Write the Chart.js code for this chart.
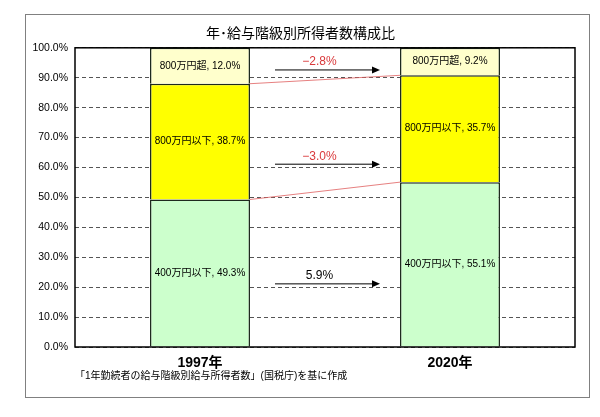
<!DOCTYPE html>
<html lang="ja">
<head>
<meta charset="UTF-8" />
<title>年・給与階級別所得者数構成比</title>
<script src="https://cdn.jsdelivr.net/npm/chart.js@4.4.1/dist/chart.umd.min.js"></script>
<style>
  html, body { margin: 0; padding: 0; background: #fff; }
  #box { position: absolute; left: 25px; top: 14px; width: 563px; height: 382px; border: 1px solid #808080; }
  #box canvas { display: block; }
</style>
</head>
<body>
<div id="box"><canvas id="myChart" width="563" height="382"></canvas></div>
<script>
// data
const years = ['1997年', '2020年'];
const seriesNames = ['400万円以下', '800万円以下', '800万円超'];
const under400 = [49.3, 55.1];
const under800 = [38.7, 35.7];
const over800 = [12.0, 9.2];
// change labels shown beside arrows (bottom, middle, top band)
const changeLabels = ['5.9%', '−3.0%', '−2.8%'];
const chartTitle = '年･給与階級別所得者数構成比';
const sourceNote = '「1年勤続者の給与階級別給与所得者数」(国税庁)を基に作成';

// where the arrows sit (y in %, x in category units)
const arrowLevels = [21.1, 61.1, 92.6];
const arrowFrom = 0.3, arrowTo = 0.72;
const changeColors = ['#000000', '#d9383a', '#d9383a'];

const FONT = '"Liberation Sans", "Noto Sans CJK JP", sans-serif';

const extras = {
  id: 'extras',
  afterDatasetsDraw(chart) {
    const ctx = chart.ctx;
    const a = chart.chartArea;
    const x = chart.scales.x, y = chart.scales.y;
    ctx.save();

    // red lines joining the segment tops
    ctx.strokeStyle = '#e06060';
    ctx.lineWidth = 0.8;
    [0, 1].forEach(i => {
      const bars = chart.getDatasetMeta(i).data;
      ctx.beginPath();
      ctx.moveTo(bars[0].x + bars[0].width / 2, bars[0].y);
      ctx.lineTo(bars[1].x - bars[1].width / 2, bars[1].y);
      ctx.stroke();
    });

    // labels inside segments
    ctx.fillStyle = '#000';
    ctx.font = '10px ' + FONT;
    ctx.textAlign = 'center';
    ctx.textBaseline = 'middle';
    chart.data.datasets.forEach((ds, i) => {
      chart.getDatasetMeta(i).data.forEach((bar, j) => {
        const c = bar.getCenterPoint();
        ctx.fillText(ds.label + ', ' + ds.data[j].toFixed(1) + '%', c.x, c.y);
      });
    });

    // arrows with change values
    arrowLevels.forEach((lv, i) => {
      const py = y.getPixelForValue(lv);
      const x0 = x.getPixelForValue(arrowFrom), x1 = x.getPixelForValue(arrowTo);
      ctx.strokeStyle = '#000';
      ctx.lineWidth = 1;
      ctx.beginPath();
      ctx.moveTo(x0, py);
      ctx.lineTo(x1 - 6, py);
      ctx.stroke();
      ctx.fillStyle = '#000';
      ctx.beginPath();
      ctx.moveTo(x1, py);
      ctx.lineTo(x1 - 8, py - 3.5);
      ctx.lineTo(x1 - 8, py + 3.5);
      ctx.closePath();
      ctx.fill();
      ctx.fillStyle = changeColors[i];
      ctx.font = '12px ' + FONT;
      ctx.fillText(changeLabels[i], (x0 + x1) / 2 - 8, py - 8);
    });

    // plot frame
    ctx.strokeStyle = '#000';
    ctx.lineWidth = 1.5;
    ctx.strokeRect(a.left, a.top, a.right - a.left, a.bottom - a.top);

    // source note
    ctx.fillStyle = '#000';
    ctx.font = '10px ' + FONT;
    ctx.textAlign = 'left';
    ctx.fillText(sourceNote, 49, 361);
    ctx.restore();
  }
};

const ctx = document.getElementById('myChart').getContext('2d');
const myChart = new Chart(ctx, {
  type: 'bar',
  data: {
    labels: years,
    datasets: [
      { label: seriesNames[0], data: under400, backgroundColor: '#ccffcc' },
      { label: seriesNames[1], data: under800, backgroundColor: '#ffff00' },
      { label: seriesNames[2], data: over800, backgroundColor: '#ffffcc' }
    ].map(d => Object.assign(d, {
      borderColor: '#1e2a1e',
      borderWidth: 1.5,
      borderSkipped: 'start',
      categoryPercentage: 0.4,
      barPercentage: 1.0
    }))
  },
  options: {
    responsive: false,
    animation: false,
    events: [],
    layout: { padding: { left: 0, right: 14, top: 0, bottom: 0 } },
    plugins: {
      legend: { display: false },
      tooltip: { enabled: false },
      title: {
        display: true,
        text: chartTitle,
        color: '#000',
        font: { family: FONT, size: 14, weight: 'normal' },
        padding: { top: 11, bottom: 5 }
      }
    },
    scales: {
      x: {
        stacked: true,
        grid: { display: false, drawTicks: false },
        border: { display: false },
        ticks: { color: '#000', padding: 8, font: { family: FONT, size: 14, weight: 'bold' } },
        afterFit: s => { s.height = 50; }
      },
      y: {
        stacked: true,
        min: 0,
        max: 100,
        ticks: {
          stepSize: 10,
          color: '#000',
          padding: 7,
          font: { family: FONT, size: 10.5 },
          callback: v => v.toFixed(1) + '%'
        },
        grid: { color: '#555', lineWidth: 1, drawTicks: false },
        border: { display: false, dash: [4, 3] },
        afterFit: s => { s.width = 49; }
      }
    }
  },
  plugins: [extras]
});
</script>
</body>
</html>
